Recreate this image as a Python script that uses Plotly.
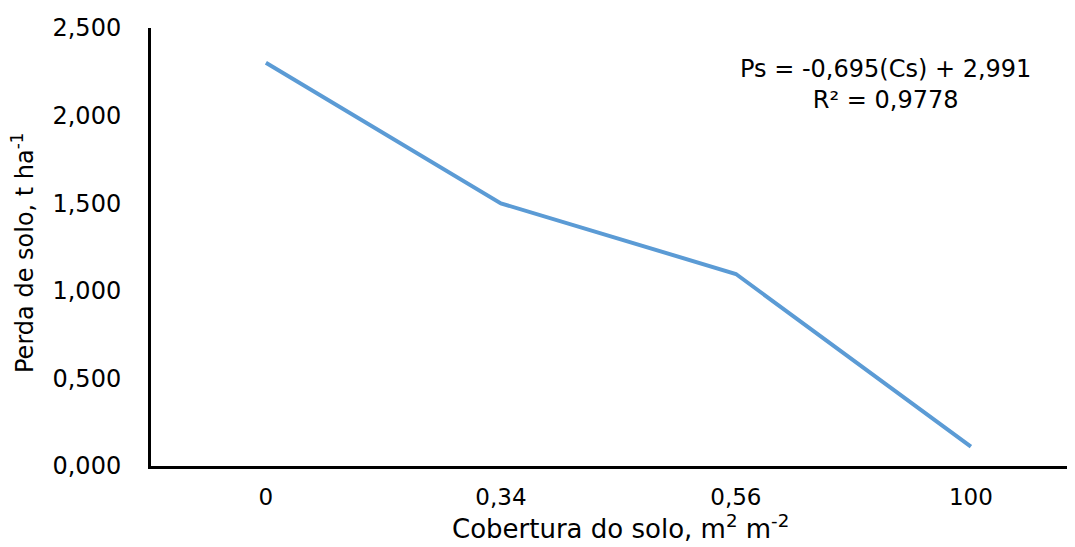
import plotly.graph_objects as go

categories = ["0", "0,34", "0,56", "100"]
perda_solo = [2.302, 1.499, 1.096, 0.110]
y_tick_vals = [0, 0.5, 1.0, 1.5, 2.0, 2.5]
y_tick_text = ["0,000", "0,500", "1,000", "1,500", "2,000", "2,500"]
eq_lines = ["Ps = -0,695(Cs) + 2,991", "R² = 0,9778"]

# page body has an 8px margin; the figure is shrunk so it fits the 1075x547 window
W, H = 1067, 539
L, T, B = 143, 20, 81
PW, PH = W - L, H - T - B


def px(page_x):
    return (page_x - 8 - L) / PW


def py(page_y):
    return (H - B - (page_y - 8)) / PH


fig = go.Figure()
fig.add_trace(go.Scatter(
    x=list(range(len(categories))), y=perda_solo, mode="lines",
    line=dict(color="#5B9BD5", width=4), showlegend=False, hoverinfo="skip"))

fam = "DejaVu Sans, Liberation Sans, Arial"

fig.update_layout(
    width=W, height=H,
    margin=dict(l=L, r=0, t=T, b=B, pad=0),
    paper_bgcolor="white", plot_bgcolor="white",
    xaxis=dict(
        range=[-0.489, 3.443], tickvals=list(range(len(categories))), ticktext=categories,
        showgrid=False, zeroline=False, showline=True, linecolor="black", linewidth=3,
        ticks="outside", ticklen=8, tickcolor="rgba(0,0,0,0)",
        tickfont=dict(family=fam, size=23, color="#000000"),
    ),
    yaxis=dict(
        range=[0, 2.5], tickvals=y_tick_vals, ticktext=y_tick_text,
        showgrid=False, zeroline=False, showline=True, linecolor="black", linewidth=3,
        ticks="outside", ticklen=22, tickcolor="rgba(0,0,0,0)",
        tickfont=dict(family=fam, size=24, color="#000000"),
    ),
    annotations=[
        dict(text="Perda de solo, t ha<sup>-1</sup>", textangle=-90, xref="paper", yref="paper",
             x=px(23), y=py(253), xanchor="center", yanchor="middle", showarrow=False,
             font=dict(family=fam, size=24, color="#000000")),
        dict(text="Cobertura do solo, m<sup>2</sup> m<sup>-2</sup>", xref="paper", yref="paper",
             x=px(620), y=py(527), xanchor="center", yanchor="middle", showarrow=False,
             font=dict(family=fam, size=26, color="#000000")),
        dict(text="<br>".join(eq_lines), xref="paper", yref="paper",
             x=px(885), y=py(84), xanchor="center", yanchor="middle", showarrow=False,
             align="center", font=dict(family=fam, size=24, color="#000000")),
    ],
)

fig.write_html("out.html")
